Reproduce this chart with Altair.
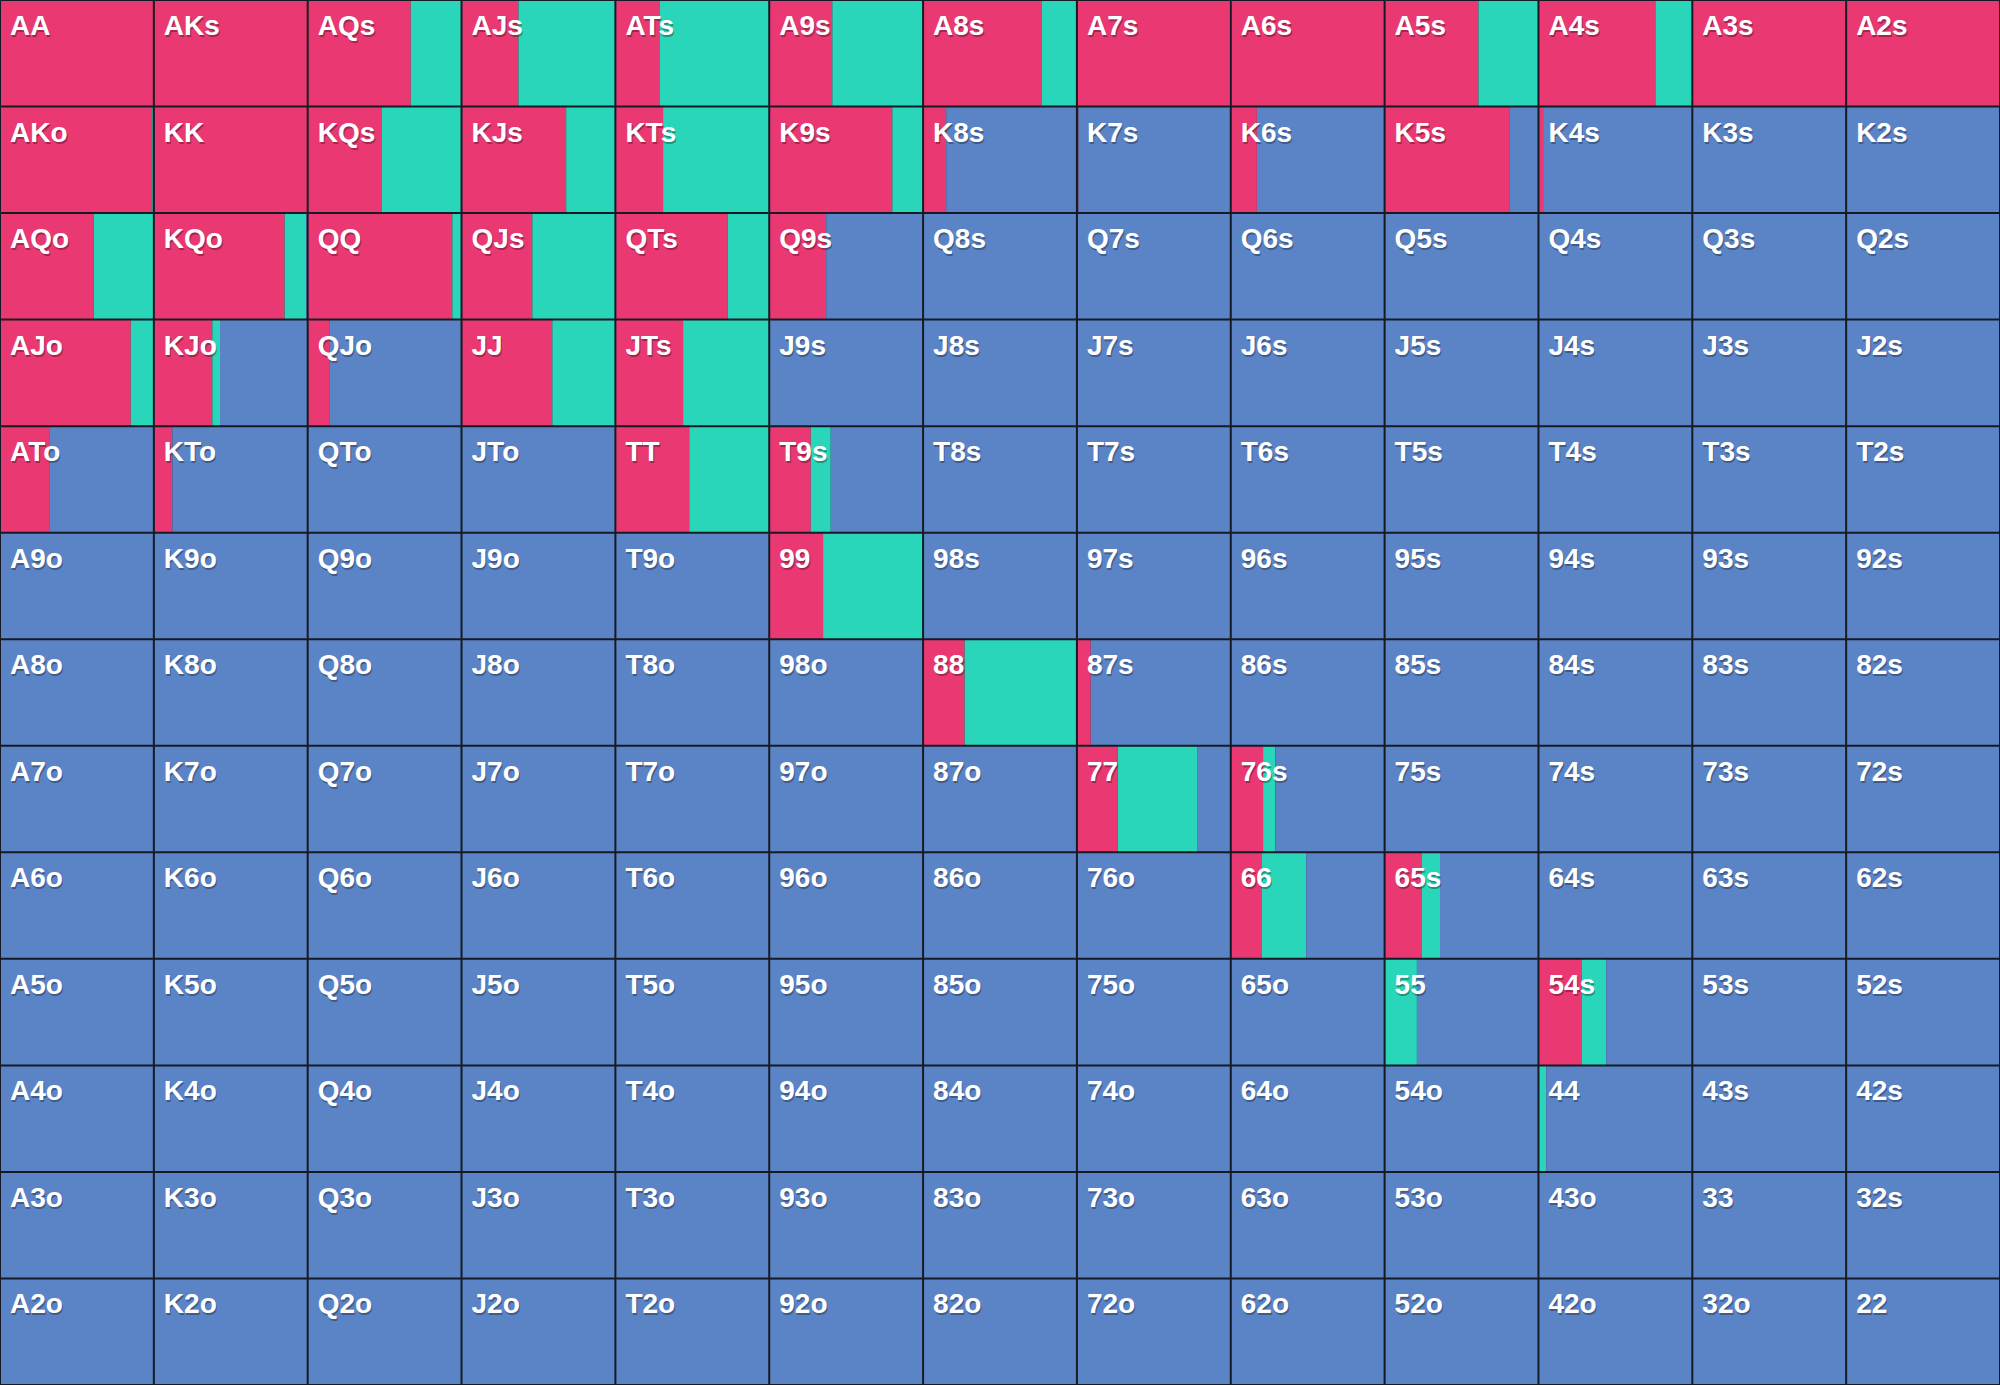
import altair as alt
import pandas as pd

ranks = list("AKQJT98765432")

# fraction of each cell that is "raise" (red), row by row (row rank x column rank)
raise_rows = [
    [1.00, 1.00, 0.67, 0.37, 0.29, 0.41, 0.77, 0.99, 1.00, 0.61, 0.76, 1.00, 1.00],
    [0.99, 1.00, 0.48, 0.68, 0.31, 0.80, 0.15, 0.01, 0.17, 0.81, 0.03, 0.00, 0.00],
    [0.61, 0.85, 0.94, 0.46, 0.73, 0.37, 0.00, 0.00, 0.00, 0.00, 0.00, 0.00, 0.00],
    [0.85, 0.38, 0.14, 0.59, 0.44, 0.00, 0.00, 0.00, 0.00, 0.00, 0.00, 0.00, 0.00],
    [0.32, 0.12, 0.00, 0.00, 0.48, 0.27, 0.00, 0.00, 0.00, 0.00, 0.00, 0.00, 0.00],
    [0.00, 0.00, 0.00, 0.00, 0.00, 0.35, 0.00, 0.00, 0.00, 0.00, 0.00, 0.00, 0.00],
    [0.00, 0.00, 0.00, 0.00, 0.00, 0.00, 0.27, 0.09, 0.00, 0.00, 0.00, 0.00, 0.00],
    [0.00, 0.00, 0.00, 0.00, 0.00, 0.00, 0.00, 0.265, 0.21, 0.00, 0.00, 0.00, 0.00],
    [0.00, 0.00, 0.00, 0.00, 0.00, 0.00, 0.00, 0.00, 0.20, 0.24, 0.00, 0.00, 0.00],
    [0.00, 0.00, 0.00, 0.00, 0.00, 0.00, 0.00, 0.00, 0.00, 0.00, 0.28, 0.00, 0.00],
    [0.00, 0.00, 0.00, 0.00, 0.00, 0.00, 0.00, 0.00, 0.00, 0.00, 0.00, 0.00, 0.00],
    [0.00, 0.00, 0.00, 0.00, 0.00, 0.00, 0.00, 0.00, 0.00, 0.00, 0.00, 0.00, 0.00],
    [0.00, 0.00, 0.00, 0.00, 0.00, 0.00, 0.00, 0.00, 0.00, 0.00, 0.00, 0.00, 0.00],
]

# fraction of each cell that is "call" (green)
call_rows = [
    [0.00, 0.00, 0.33, 0.63, 0.71, 0.59, 0.23, 0.01, 0.00, 0.39, 0.24, 0.00, 0.00],
    [0.01, 0.00, 0.52, 0.32, 0.69, 0.20, 0.00, 0.00, 0.00, 0.00, 0.00, 0.00, 0.00],
    [0.39, 0.14, 0.06, 0.54, 0.27, 0.00, 0.00, 0.00, 0.00, 0.00, 0.00, 0.00, 0.00],
    [0.15, 0.05, 0.00, 0.41, 0.56, 0.00, 0.00, 0.00, 0.00, 0.00, 0.00, 0.00, 0.00],
    [0.00, 0.00, 0.00, 0.00, 0.52, 0.13, 0.00, 0.00, 0.00, 0.00, 0.00, 0.00, 0.00],
    [0.00, 0.00, 0.00, 0.00, 0.00, 0.65, 0.00, 0.00, 0.00, 0.00, 0.00, 0.00, 0.00],
    [0.00, 0.00, 0.00, 0.00, 0.00, 0.00, 0.73, 0.00, 0.00, 0.00, 0.00, 0.00, 0.00],
    [0.00, 0.00, 0.00, 0.00, 0.00, 0.00, 0.00, 0.52, 0.08, 0.00, 0.00, 0.00, 0.00],
    [0.00, 0.00, 0.00, 0.00, 0.00, 0.00, 0.00, 0.00, 0.29, 0.12, 0.00, 0.00, 0.00],
    [0.00, 0.00, 0.00, 0.00, 0.00, 0.00, 0.00, 0.00, 0.00, 0.21, 0.16, 0.00, 0.00],
    [0.00, 0.00, 0.00, 0.00, 0.00, 0.00, 0.00, 0.00, 0.00, 0.00, 0.05, 0.00, 0.00],
    [0.00, 0.00, 0.00, 0.00, 0.00, 0.00, 0.00, 0.00, 0.00, 0.00, 0.00, 0.00, 0.00],
    [0.00, 0.00, 0.00, 0.00, 0.00, 0.00, 0.00, 0.00, 0.00, 0.00, 0.00, 0.00, 0.00],
]

actions = ["raise", "call", "fold"]
action_colors = ["#EA3872", "#29D6B9", "#5B84C6"]

W, H = 2000, 1385

seg_rows = []
label_rows = []
for i in range(13):
    for j in range(13):
        if i == j:
            name = ranks[i] + ranks[j]
        elif j > i:
            name = ranks[i] + ranks[j] + "s"
        else:
            name = ranks[j] + ranks[i] + "o"
        r = raise_rows[i][j]
        c = call_rows[i][j]
        f = max(0.0, 1.0 - r - c)
        start = 0.0
        for a, frac in zip(actions, [r, c, f]):
            if frac > 0:
                seg_rows.append({"row": i, "x0": j + start, "x1": j + start + frac,
                                 "y0": i, "y1": i + 1, "action": a})
            start += frac
        label_rows.append({"row": i, "col": j, "hand": name})

seg = pd.DataFrame(seg_rows)
labels = pd.DataFrame(label_rows)
bounds = pd.DataFrame({"k": list(range(14))})

xs = alt.Scale(domain=[0, 13], nice=False, zero=False)
ys = alt.Scale(domain=[0, 13], nice=False, zero=False, reverse=True)

cells = alt.Chart(seg).mark_rect(strokeWidth=0).encode(
    x=alt.X("x0:Q", scale=xs, axis=None),
    x2="x1:Q",
    y=alt.Y("y0:Q", scale=ys, axis=None),
    y2="y1:Q",
    color=alt.Color("action:N", scale=alt.Scale(domain=actions, range=action_colors), legend=None),
)

vlines = alt.Chart(bounds).mark_rule(color="#161a24", strokeWidth=2).encode(
    x=alt.X("k:Q", scale=xs, axis=None)
)
hlines = alt.Chart(bounds).mark_rule(color="#161a24", strokeWidth=2).encode(
    y=alt.Y("k:Q", scale=ys, axis=None)
)

FONT = "Liberation Sans"
shadow = alt.Chart(labels).mark_text(
    align="left", baseline="alphabetic", dx=11, dy=37,
    font=FONT, fontWeight="bold", fontSize=28, color="#000000", opacity=0.3,
).encode(
    x=alt.X("col:Q", scale=xs, axis=None),
    y=alt.Y("row:Q", scale=ys, axis=None),
    text="hand:N",
)
text = alt.Chart(labels).mark_text(
    align="left", baseline="alphabetic", dx=10, dy=35,
    font=FONT, fontWeight="bold", fontSize=28, color="#ffffff",
).encode(
    x=alt.X("col:Q", scale=xs, axis=None),
    y=alt.Y("row:Q", scale=ys, axis=None),
    text="hand:N",
)

chart = alt.layer(cells, vlines, hlines, shadow, text).properties(
    width=W, height=H, padding=0, background="#1c2030",
    autosize=alt.AutoSizeParams(type="none"),
).configure_view(stroke=None)

chart.save("out.html", embed_options={"renderer": "svg", "actions": False})
